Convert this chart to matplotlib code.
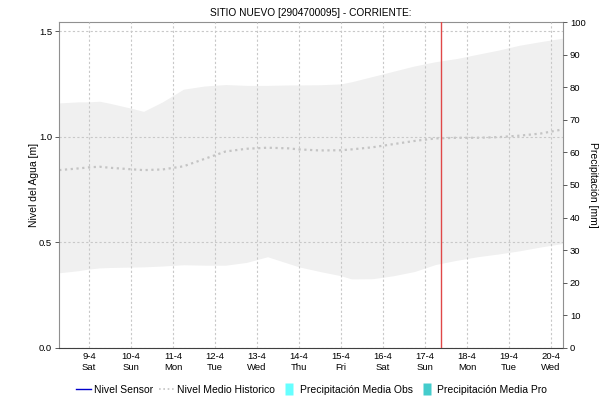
import numpy as np
import matplotlib.pyplot as plt
from matplotlib.lines import Line2D

plt.rcParams['font.family'] = ['Liberation Sans', 'DejaVu Sans']

# time axis in days of April (9.0 = 9-4 00:00)
dias = [8.29, 8.75, 9.0, 9.25, 9.5, 10.0, 10.3, 10.75, 11.25, 11.75, 12.25, 12.75,
        13.25, 13.75, 14.0, 14.5, 15.0, 15.25, 15.75, 16.25, 16.75, 17.25, 17.75,
        18.25, 18.75, 19.25, 19.75, 20.29]

# historic band (max / min) and historic mean level [m]
nivel_max = [1.16, 1.165, 1.165, 1.168, 1.158, 1.135, 1.12, 1.165, 1.225, 1.24, 1.247, 1.243,
             1.243, 1.245, 1.245, 1.246, 1.25, 1.26, 1.285, 1.31, 1.335, 1.355, 1.37,
             1.39, 1.41, 1.433, 1.45, 1.467]
nivel_min = [0.356, 0.366, 0.374, 0.379, 0.381, 0.383, 0.384, 0.388, 0.394, 0.392, 0.392, 0.405,
             0.432, 0.40, 0.384, 0.362, 0.342, 0.327, 0.328, 0.342, 0.362, 0.395, 0.415,
             0.432, 0.445, 0.46, 0.478, 0.495]
nivel_medio = [0.842, 0.85, 0.855, 0.858, 0.853, 0.846, 0.842, 0.845, 0.86, 0.895, 0.93, 0.943,
               0.948, 0.945, 0.94, 0.935, 0.936, 0.94, 0.95, 0.965, 0.98, 0.992, 0.995,
               0.995, 0.998, 1.005, 1.015, 1.035]

dia_ticks = [9, 10, 11, 12, 13, 14, 15, 16, 17, 18, 19, 20]
dia_nombres = ['Sat', 'Sun', 'Mon', 'Tue', 'Wed', 'Thu', 'Fri', 'Sat', 'Sun', 'Mon', 'Tue', 'Wed']
ahora = 17.38  # current time marker

fig = plt.figure(figsize=(6.07, 4.03), dpi=100)
ax = fig.add_axes([0.0972, 0.1365, 0.8303, 0.8089])

ax.fill_between(dias, nivel_min, nivel_max, color='#f0f0f0', lw=0, zorder=1)
ax.plot(dias, nivel_medio, color='#c4c4c4', lw=1.6, ls=(0, (1, 1.6)), zorder=2)
ax.axvline(ahora, color='#e04848', lw=1.0, zorder=4)

ax.set_xlim(8.286, 20.286)
ax.set_ylim(0, 1.543)
ax.set_xticks(dia_ticks)
ax.set_xticklabels([f'{d}-4\n{n}' for d, n in zip(dia_ticks, dia_nombres)])
ax.set_yticks([0.0, 0.5, 1.0, 1.5])
ax.set_yticklabels(['0.0', '0.5', '1.0', '1.5'])
ax.grid(True, color='#c8c8c8', ls=(0, (2, 2)), lw=0.8, zorder=0)
ax.set_axisbelow(False)
ax.tick_params(labelsize=6.8, length=3, width=0.6, color='#404040', pad=2)
ax.tick_params(axis='x', length=0, pad=3)
for s in ax.spines.values():
    s.set_color('#909090')
    s.set_linewidth(0.8)
ax.spines['bottom'].set_linestyle((0, (1, 1)))
ax.spines['bottom'].set_color('#404040')

ax.set_ylabel('Nivel del Agua [m]', fontsize=7.5, labelpad=0)
ax.set_title('SITIO NUEVO [2904700095] - CORRIENTE:', fontsize=7.3, pad=4)

ax2 = ax.twinx()
ax2.set_ylim(0, 100)
ax2.set_yticks(np.arange(0, 101, 10))
ax2.tick_params(labelsize=6.8, length=3, width=0.6, color='#404040', pad=2)
for s in ax2.spines.values():
    s.set_visible(False)
ax2.set_ylabel('Precipitación [mm]', fontsize=7.5, rotation=-90, labelpad=9)

caja = [(-0.3, -0.5), (0.3, -0.5), (0.3, 0.5), (-0.3, 0.5), (-0.3, -0.5)]
handles = [Line2D([], [], color='#0000cc', lw=1),
           Line2D([], [], color='#c4c4c4', lw=1.2, ls=(0, (1, 1.6))),
           Line2D([], [], ls='none', marker=caja, ms=9, mfc='#66ffff', mec='none'),
           Line2D([], [], ls='none', marker=caja, ms=9, mfc='#44cccc', mec='none')]
labels = ['Nivel Sensor', 'Nivel Medio Historico', 'Precipitación Media Obs', 'Precipitación Media Pro']
fig.legend(handles, labels, loc='center', bbox_to_anchor=(0.513, 0.032), ncol=4, frameon=False,
           fontsize=7.5, handlelength=1.45, handletextpad=0.3, columnspacing=0.6,
           borderpad=0.2)

fig.savefig('out.png', dpi=100)
